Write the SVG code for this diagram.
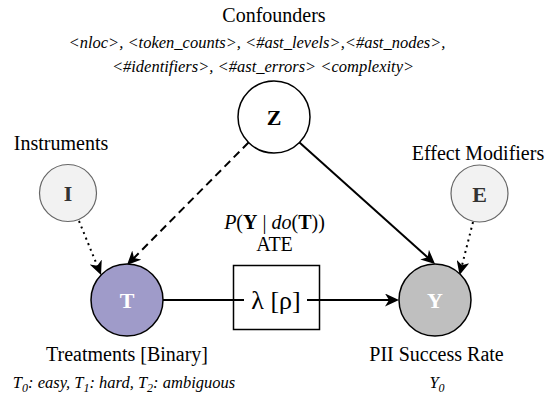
<svg xmlns="http://www.w3.org/2000/svg" width="549" height="398" viewBox="0 0 549 398">
<defs>
<marker id="arr" markerUnits="userSpaceOnUse" markerWidth="15" markerHeight="13" viewBox="0 0 15 13" refX="11" refY="6.5" orient="auto">
<path d="M0,0 L14,6.5 L0,13 L4,6.5 Z" fill="#000"/>
</marker>
</defs>
<style>
text{font-family:'Liberation Serif','Times New Roman',serif}
.lbl{font-size:20px;fill:#000;text-anchor:middle}
.it{font-size:16.5px;font-style:italic;fill:#000;text-anchor:middle}
.nl{font-size:22px;font-weight:bold;text-anchor:middle}
.edge{fill:none;stroke:#000;stroke-width:2}
</style>
<rect width="549" height="398" fill="#fff"/>
<g id="connectors">
<line class="edge" x1="248.5" y1="142.5" x2="129.1" y2="262.9" stroke-dasharray="8 5" marker-end="url(#arr)"/>
<line class="edge" x1="79" y1="221" x2="99.9" y2="272.2" stroke-dasharray="2 4" stroke-width="2.5" marker-end="url(#arr)"/>
<line class="edge" x1="299.5" y1="142.5" x2="432.8" y2="262" marker-end="url(#arr)"/>
<line class="edge" x1="473" y1="222" x2="460.3" y2="272.1" stroke-dasharray="2 4" stroke-width="2.5" marker-end="url(#arr)"/>
<line class="edge" x1="163" y1="300" x2="396" y2="300" marker-end="url(#arr)"/>
</g>
<g id="box">
<rect x="233.5" y="265.5" width="86" height="64" fill="none" stroke="#000" stroke-width="1.5"/>
<rect x="244" y="286" width="63" height="28" fill="#fff"/>
<text x="276" y="309" font-size="26" text-anchor="middle">λ [ρ]</text>
</g>
<g id="ate-label">
<text class="lbl" x="274.5" y="229"><tspan font-style="italic">P</tspan>(<tspan font-weight="bold">Y</tspan> | <tspan font-style="italic">do</tspan>(<tspan font-weight="bold">T</tspan>))</text>
<text class="lbl" x="274.5" y="251">ATE</text>
</g>
<g id="confounders">
<text class="lbl" x="274" y="22">Confounders</text>
<text class="it" x="257" y="48">&lt;nloc&gt;, &lt;token_counts&gt;, &lt;#ast_levels&gt;,&lt;#ast_nodes&gt;,</text>
<text class="it" x="263" y="72">&lt;#identifiers&gt;, &lt;#ast_errors&gt; &lt;complexity&gt;</text>
</g>
<g id="node-Z">
<circle cx="274" cy="117" r="36" fill="#fff" stroke="#000" stroke-width="1.5"/>
<text class="nl" x="274" y="125" fill="#000">Z</text>
</g>
<g id="node-I">
<text class="lbl" x="61" y="150">Instruments</text>
<circle cx="68" cy="193" r="28.5" fill="#f2f2f2" stroke="#666" stroke-width="1.2"/>
<text class="nl" x="68" y="201" fill="#333">I</text>
</g>
<g id="node-E">
<text class="lbl" x="478" y="160">Effect Modifiers</text>
<circle cx="479.5" cy="193.5" r="28.5" fill="#f2f2f2" stroke="#666" stroke-width="1.2"/>
<text class="nl" x="479.5" y="201.5" fill="#333">E</text>
</g>
<g id="node-T">
<circle cx="127" cy="300" r="36" fill="#9f9bc9" stroke="#000" stroke-width="1.5"/>
<text class="nl" x="127" y="308" fill="#fff">T</text>
<text class="lbl" x="127" y="361">Treatments [Binary]</text>
<text class="it" x="124" y="388" font-size="17">T<tspan font-size="12" dy="4">0</tspan><tspan dy="-4">: easy, T</tspan><tspan font-size="12" dy="4">1</tspan><tspan dy="-4">: hard, T</tspan><tspan font-size="12" dy="4">2</tspan><tspan dy="-4">: ambiguous</tspan></text>
</g>
<g id="node-Y">
<circle cx="435" cy="300" r="36" fill="#bfbfbf" stroke="#000" stroke-width="1.5"/>
<text class="nl" x="435" y="308" fill="#fff">Y</text>
<text class="lbl" x="436.5" y="361">PII Success Rate</text>
<text class="it" x="437" y="388" font-size="17">Y<tspan font-size="12" dy="4">0</tspan></text>
</g>
</svg>
